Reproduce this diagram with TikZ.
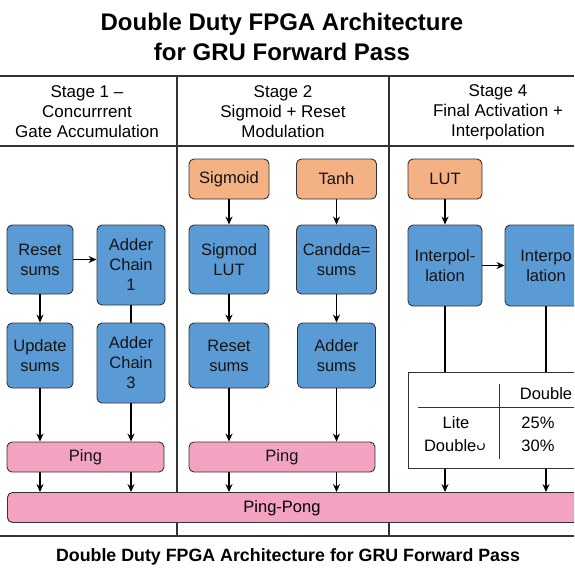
\documentclass[tikz,border=0pt]{standalone}
\usepackage{fontspec}
\setmainfont{Liberation Sans}
\newfontfamily\oddglyph{DejaVu Sans}
\usetikzlibrary{arrows.meta}

\definecolor{gateblue}{HTML}{5B9BD5}
\definecolor{lutorange}{HTML}{F4B183}
\definecolor{bufpink}{HTML}{F4A2C2}
\definecolor{rulegray}{HTML}{333333}

\tikzset{
  box/.style={draw=rulegray, rounded corners=5pt, line width=0.9pt, align=center,
    inner sep=0pt, text=black!92, font=\fontsize{16.5}{20}\selectfont},
  gate/.style={box, fill=gateblue},
  lut/.style={box, fill=lutorange, minimum height=40pt},
  buf/.style={box, fill=bufpink, minimum height=30pt},
  head/.style={align=center, font=\fontsize{17}{20}\selectfont},
  cell/.style={font=\fontsize{16.5}{20}\selectfont, inner sep=0pt},
  flow/.style={-{Stealth[length=8pt,width=7pt]}, line width=1.2pt},
  wire/.style={line width=1.2pt},
  rule/.style={draw=rulegray, line width=1.1pt},
}

\begin{document}
\begin{tikzpicture}[x=1pt,y=-1pt]
\useasboundingbox (0,0) rectangle (574,579);
\clip (0,0) rectangle (574,579);

% title and frame
\node[align=center, font=\bfseries\fontsize{24}{30}\selectfont] (title) at (282,37)
  {Double Duty FPGA Architecture\\for GRU Forward Pass};
\draw[rule] (0,76) -- (574,76);
\draw[rule] (0,146) -- (574,146);
\draw[rule] (0,536) -- (574,536);
\draw[rule] (177,76) -- (177,536);
\draw[rule] (389,76) -- (389,536);

\node[head] (H1) at (87,112) {Stage 1 –\\Concurrrent\\Gate Accumulation};
\node[head] (H2) at (283,112) {Stage 2\\Sigmoid + Reset\\Modulation};
\node[head] (H4) at (498,112) {Stage 4\\Final Activation +\\Interpolation};

% stage 1
\node[gate, minimum width=66pt, minimum height=69pt] (RS1) at (40,259.5) {Reset\\sums};
\node[gate, minimum width=68pt, minimum height=80pt] (AC1) at (131,265) {Adder\\Chain\\1};
\node[gate, minimum width=66pt, minimum height=65pt] (US) at (40,355.5) {Update\\sums};
\node[gate, minimum width=68pt, minimum height=80pt] (AC3) at (131,363) {Adder\\Chain\\3};
\node[buf, minimum width=157pt] (P1) at (85.5,457) {Ping};

% stage 2
\node[lut, minimum width=80pt] (SG) at (229,179) {Sigmoid};
\node[lut, minimum width=80pt] (TH) at (336.5,179) {Tanh};
\node[gate, minimum width=80pt, minimum height=69pt] (SL) at (229,259.5) {Sigmod\\LUT};
\node[gate, minimum width=80pt, minimum height=69pt] (CS) at (336.5,259.5) {Candda=\\sums};
\node[gate, minimum width=80pt, minimum height=65pt] (RS2) at (229,355.5) {Reset\\sums};
\node[gate, minimum width=78pt, minimum height=65pt] (AS) at (336.5,355.5) {Adder\\sums};
\node[buf, minimum width=186pt] (P2) at (282,457) {Ping};

% stage 4
\node[lut, minimum width=74pt] (LUT) at (445,179) {LUT};
\node[gate, minimum width=74pt, minimum height=81pt] (IP1) at (445,265.5) {Interpol-\\lation};
\node[gate, minimum width=82pt, minimum height=81pt] (IP2) at (546,265.5) {Interpo\\lation};

\node[draw=rulegray, fill=white, line width=0.9pt, anchor=north west,
  minimum width=180pt, minimum height=96pt] (tab) at (408,372) {};
\draw[rulegray, line width=0.9pt] (499,384) -- (499,459);
\draw[rulegray, line width=0.9pt] (418,407) -- (574,407);
\node[cell] (tdh) at (546,394) {Double};
\node[cell] (tlite) at (456,423) {Lite};
\node[cell] (tdbl) at (455,446) {Double{\oddglyph\fontsize{13}{13}\selectfont\raisebox{3pt}{ں}}};
\node[cell] (t25) at (538,423) {25\%};
\node[cell] (t30) at (538,446) {30\%};

% shared buffer
\node[buf, minimum width=580pt, anchor=west] (PP) at (7,507.5) {};
\node[cell] (PPtext) at (282,508) {Ping-Pong};

\node[font=\bfseries\fontsize{17.8}{20}\selectfont] (caption) at (288,557)
  {Double Duty FPGA Architecture for GRU Forward Pass};

% connectors
\draw[flow] (RS1) -- (RS1 -| AC1.west);
\draw[flow] (RS1) -- (US);
\draw[wire] (AC1) -- (AC3);
\draw[flow] (US) -- (US |- P1.north);
\draw[flow] (AC3) -- (AC3 |- P1.north);
\draw[flow] (P1.south -| US) -- (PP.north -| US);
\draw[flow] (P1.south -| AC3) -- (PP.north -| AC3);

\draw[flow] (SG) -- (SL);
\draw[flow] (TH) -- (CS);
\draw[flow] (SL) -- (RS2);
\draw[flow] (CS) -- (AS);
\draw[flow] (RS2) -- (RS2 |- P2.north);
\draw[flow] (AS) -- (AS |- P2.north);
\draw[flow] (P2.south -| RS2) -- (PP.north -| RS2);
\draw[flow] (P2.south -| AS) -- (PP.north -| AS);

\draw[flow] (LUT) -- (IP1);
\draw[flow] (IP1) -- (IP1 -| IP2.west);
\draw[wire] (IP1) -- (tab.north -| IP1);
\draw[wire] (IP2) -- (tab.north -| IP2);
\draw[flow] (tab.south -| IP1) -- (PP.north -| IP1);
\draw[flow] (tab.south -| IP2) -- (PP.north -| IP2);
\end{tikzpicture}
\end{document}
